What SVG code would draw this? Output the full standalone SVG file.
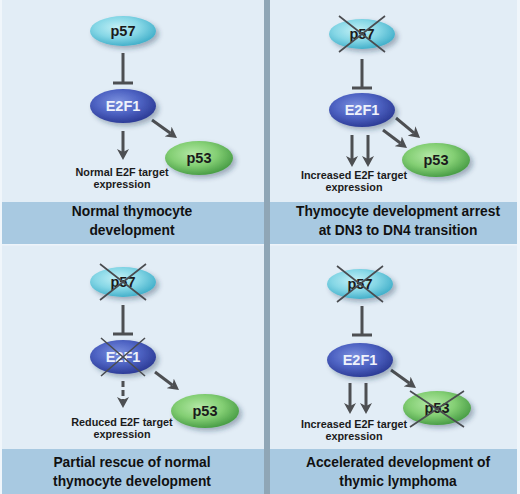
<svg xmlns="http://www.w3.org/2000/svg" width="520" height="494" viewBox="0 0 520 494">
<defs>
<radialGradient id="gP57" cx="0.42" cy="0.38" r="0.62">
<stop offset="0" stop-color="#c2f0f6"/><stop offset="0.55" stop-color="#86d7e6"/><stop offset="1" stop-color="#45b1cb"/>
</radialGradient>
<radialGradient id="gE2F" cx="0.42" cy="0.38" r="0.62">
<stop offset="0" stop-color="#7b90de"/><stop offset="0.55" stop-color="#4e63c3"/><stop offset="1" stop-color="#2e3d98"/>
</radialGradient>
<radialGradient id="gP53" cx="0.42" cy="0.38" r="0.62">
<stop offset="0" stop-color="#b3e8a6"/><stop offset="0.55" stop-color="#84cf74"/><stop offset="1" stop-color="#4b9f48"/>
</radialGradient>
<filter id="sh" x="-30%" y="-40%" width="170%" height="190%">
<feDropShadow dx="3" dy="3" stdDeviation="2.5" flood-color="#1c3550" flood-opacity="0.35"/>
</filter>
<marker id="ah" viewBox="0 0 11 12" refX="3" refY="6" markerWidth="11" markerHeight="12" markerUnits="userSpaceOnUse" orient="auto">
<path d="M0,0 L11,6 L0,12 L3,6 z" fill="#4d4f52"/>
</marker>
<style>
.p57{fill:url(#gP57);filter:url(#sh)}
.e2f{fill:url(#gE2F);filter:url(#sh)}
.p53{fill:url(#gP53);filter:url(#sh)}
.nt{font-family:"Liberation Sans",Arial,sans-serif;font-weight:bold;font-size:14.5px;text-anchor:middle;fill:#1b1b1b}
.nw{fill:#eef2fb}
.lab{font-family:"Liberation Sans",Arial,sans-serif;font-weight:bold;font-size:10.8px;text-anchor:middle;fill:#1b1b1b}
.ban{font-family:"Liberation Sans",Arial,sans-serif;font-weight:bold;font-size:13.8px;text-anchor:middle;fill:#111}
.act{stroke:#4d4f52;stroke-width:3;fill:none;marker-end:url(#ah)}
.inh{stroke:#4d4f52;stroke-width:3;fill:none}
.x{stroke:#4a4c50;stroke-width:1.6;fill:none}
</style>
</defs>
<rect x="0" y="0" width="520" height="494" fill="#f0f6fb"/>
<rect x="2" y="0" width="515" height="494" fill="#e2edf6"/>
<rect x="2" y="202" width="262" height="42" fill="#a8c9e1"/>
<rect x="270" y="202" width="247" height="42" fill="#a8c9e1"/>
<rect x="2" y="244" width="515" height="1.5" fill="#edf4fa"/>
<rect x="2" y="449" width="262" height="45" fill="#a8c9e1"/>
<rect x="270" y="449" width="247" height="45" fill="#a8c9e1"/>
<rect x="264" y="0" width="6" height="494" fill="#8fa6b6"/>

<g id="connectors">
<line class="inh" x1="123" y1="53" x2="123" y2="83"/>
<line class="inh" x1="113" y1="83" x2="133" y2="83"/>
<line class="act" x1="123" y1="131" x2="123" y2="152"/>
<line class="act" x1="152" y1="120" x2="170.5" y2="133.3"/>
<line class="inh" x1="362" y1="59" x2="362" y2="88"/>
<line class="inh" x1="352" y1="88" x2="372" y2="88"/>
<line class="act" x1="352" y1="135" x2="352" y2="159"/>
<line class="act" x1="368" y1="135" x2="368" y2="159"/>
<line class="act" x1="396" y1="118" x2="413.9" y2="132.9"/>
<line class="act" x1="383" y1="130" x2="400.6" y2="143.2"/>
<line class="inh" x1="123" y1="305" x2="123" y2="334"/>
<line class="inh" x1="113" y1="334" x2="133" y2="334"/>
<line class="act" x1="123" y1="381" x2="123" y2="400" stroke-dasharray="6 3"/>
<line class="act" x1="155" y1="372" x2="172.6" y2="385.2"/>
<line class="inh" x1="362" y1="306" x2="362" y2="335"/>
<line class="inh" x1="352" y1="335" x2="372" y2="335"/>
<line class="act" x1="350" y1="383" x2="350" y2="406"/>
<line class="act" x1="366" y1="383" x2="366" y2="406"/>
<line class="act" x1="391" y1="370" x2="409.5" y2="383.3"/>
</g>

<g id="tl-p57"><ellipse class="p57" cx="123" cy="31" rx="33" ry="15"/><text class="nt" x="123" y="36">p57</text></g>
<g id="tl-e2f1"><ellipse class="e2f" cx="123" cy="106" rx="33" ry="17"/><text class="nt nw" x="123" y="111">E2F1</text></g>
<g id="tl-p53"><ellipse class="p53" cx="199" cy="158" rx="34" ry="17"/><text class="nt" x="199" y="163">p53</text></g>
<g id="tl-label"><text class="lab" x="122" y="176">Normal E2F target</text><text class="lab" x="122" y="188">expression</text></g>
<g id="tl-banner"><text class="ban" x="132" y="216">Normal thymocyte</text><text class="ban" x="132" y="235">development</text></g>

<g id="tr-p57"><ellipse class="p57" cx="362" cy="34" rx="33" ry="15"/><text class="nt" x="362" y="39">p57</text>
<path class="x" d="M339,16 L385,52 M339,52 L385,16"/></g>
<g id="tr-e2f1"><ellipse class="e2f" cx="362" cy="110" rx="33" ry="17"/><text class="nt nw" x="362" y="115">E2F1</text></g>
<g id="tr-p53"><ellipse class="p53" cx="436" cy="160" rx="34" ry="17"/><text class="nt" x="436" y="165">p53</text></g>
<g id="tr-label"><text class="lab" x="354" y="179">Increased E2F target</text><text class="lab" x="354" y="191">expression</text></g>
<g id="tr-banner"><text class="ban" x="398" y="216">Thymocyte development arrest</text><text class="ban" x="398" y="235">at DN3 to DN4 transition</text></g>

<g id="bl-p57"><ellipse class="p57" cx="123" cy="282" rx="33" ry="15"/><text class="nt" x="123" y="287">p57</text>
<path class="x" d="M100,264 L146,300 M100,300 L146,264"/></g>
<g id="bl-e2f1"><ellipse class="e2f" cx="123" cy="357" rx="33" ry="17"/><text class="nt nw" x="123" y="362">E2F1</text>
<path class="x" d="M101,338 L145,376 M101,376 L145,338"/></g>
<g id="bl-p53"><ellipse class="p53" cx="205" cy="411" rx="34" ry="17"/><text class="nt" x="205" y="416">p53</text></g>
<g id="bl-label"><text class="lab" x="122" y="426">Reduced E2F target</text><text class="lab" x="122" y="438">expression</text></g>
<g id="bl-banner"><text class="ban" x="132" y="467">Partial rescue of normal</text><text class="ban" x="132" y="486">thymocyte development</text></g>

<g id="br-p57"><ellipse class="p57" cx="360" cy="284" rx="33" ry="15"/><text class="nt" x="360" y="289">p57</text>
<path class="x" d="M337,266 L383,302 M337,302 L383,266"/></g>
<g id="br-e2f1"><ellipse class="e2f" cx="360" cy="360" rx="33" ry="17"/><text class="nt nw" x="360" y="365">E2F1</text></g>
<g id="br-p53"><ellipse class="p53" cx="437" cy="408" rx="34" ry="17"/><text class="nt" x="437" y="413">p53</text>
<path class="x" d="M410,391 L464,427 M410,427 L464,391"/></g>
<g id="br-label"><text class="lab" x="354" y="428">Increased E2F target</text><text class="lab" x="354" y="440">expression</text></g>
<g id="br-banner"><text class="ban" x="398" y="467">Accelerated development of</text><text class="ban" x="398" y="486">thymic lymphoma</text></g>
</svg>
